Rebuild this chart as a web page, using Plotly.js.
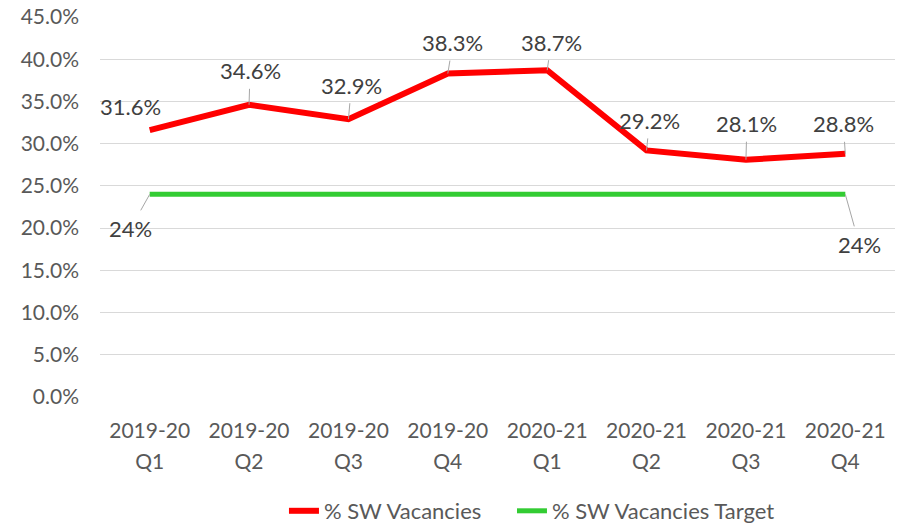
<!DOCTYPE html>
<html>
<head>
<meta charset="utf-8">
<script src="https://cdn.plot.ly/plotly-3.0.1.min.js"></script>
<style>html,body{margin:0;padding:0;background:#fff;}#chart{width:901px;height:524px;}</style>
</head>
<body>
<div id="chart"></div>
<script>
const categories = ['2019-20 Q1','2019-20 Q2','2019-20 Q3','2019-20 Q4','2020-21 Q1','2020-21 Q2','2020-21 Q3','2020-21 Q4'];
const yearLabels = ['2019-20','2019-20','2019-20','2019-20','2020-21','2020-21','2020-21','2020-21'];
const quarterLabels = ['Q1','Q2','Q3','Q4','Q1','Q2','Q3','Q4'];
const vacancies = [31.6, 34.6, 32.9, 38.3, 38.7, 29.2, 28.1, 28.8];
const target = [24, 24, 24, 24, 24, 24, 24, 24];
const seriesNames = ['% SW Vacancies', '% SW Vacancies Target'];

// label offsets (pixels) – presentation only
const vacOffsets = [[-19,-24,false],[1,-34,true],[3,-34,true],[5,-31,true],[4,-28,true],[3,-30,true],[1,-36,true],[-2,-30,true]];
const targetLabelIdx = [0, 7];
const targetOffsets = [[-19,34,true],[14,50,true]];

const xs = categories.map((_, i) => i);
const FONT = 'Lato, "Open Sans", sans-serif';
const TICK = {family: FONT, size: 21, color: '#595959'};
const LEGFONT = {family: FONT, size: 22, color: '#595959'};

const traces = [
  {x: xs, y: vacancies, name: seriesNames[0], type: 'scatter', mode: 'lines',
   line: {color: '#FF0000', width: 6}, hoverinfo: 'skip', legend: 'legend'},
  {x: xs, y: target, name: seriesNames[1], type: 'scatter', mode: 'lines',
   line: {color: '#33CC33', width: 5}, hoverinfo: 'skip', legend: 'legend2'},
  {x: xs, y: target, xaxis: 'x2', type: 'scatter', mode: 'lines', opacity: 0,
   showlegend: false, hoverinfo: 'skip', line: {width: 0}}
];

const annotations = [];
vacancies.forEach((v, i) => {
  const o = vacOffsets[i];
  const a = {x: i, y: v, xref: 'x', yref: 'y', text: v.toFixed(1) + '%',
    font: {family: FONT, size: 22, color: '#404040'}, borderpad: 4};
  if (o[2]) {
    Object.assign(a, {showarrow: true, ax: o[0], ay: o[1], arrowhead: 0, arrowwidth: 1,
      arrowcolor: '#A6A6A6', standoff: 0});
  } else {
    Object.assign(a, {showarrow: false, xshift: o[0], yshift: -o[1]});
  }
  annotations.push(a);
});
targetLabelIdx.forEach((idx, k) => {
  const o = targetOffsets[k];
  annotations.push({x: idx, y: target[idx], xref: 'x', yref: 'y', text: target[idx] + '%',
    font: {family: FONT, size: 22, color: '#404040'}, borderpad: 4,
    showarrow: true, ax: o[0], ay: o[1], arrowhead: 0, arrowwidth: 1,
    arrowcolor: '#A6A6A6', standoff: 0});
});

const layout = {
  width: 901, height: 524,
  margin: {l: 100, r: 6, t: 17, b: 127, autoexpand: false},
  paper_bgcolor: '#fff', plot_bgcolor: '#fff',
  font: {family: FONT, size: 21, color: '#595959'},
  showlegend: true,
  xaxis: {range: [-0.5, 7.5], tickvals: xs, ticktext: yearLabels, showgrid: false,
    zeroline: false, showline: false, ticks: '', ticklabelstandoff: 19,
    tickfont: TICK, fixedrange: true},
  xaxis2: {range: [-0.5, 7.5], tickvals: xs, ticktext: quarterLabels, overlaying: 'x',
    anchor: 'y', side: 'bottom', showgrid: false, zeroline: false, showline: false,
    ticks: '', ticklabelstandoff: 50, tickfont: TICK, fixedrange: true},
  yaxis: {range: [0, 45], dtick: 5, tick0: 0, tickformat: '.1f', ticksuffix: '%',
    showgrid: true, gridcolor: '#D9D9D9', gridwidth: 1, zeroline: false, showline: false,
    ticks: '', ticklabelstandoff: 20, tickfont: TICK, fixedrange: true},
  legend: {orientation: 'h', x: 0.2314, xanchor: 'left', y: -0.30, yanchor: 'middle',
    font: LEGFONT, bgcolor: 'rgba(0,0,0,0)'},
  legend2: {orientation: 'h', x: 0.5182, xanchor: 'left', y: -0.30, yanchor: 'middle',
    font: LEGFONT, bgcolor: 'rgba(0,0,0,0)'},
  annotations: annotations
};

Plotly.newPlot('chart', traces, layout, {displayModeBar: false, staticPlot: true});
</script>
</body>
</html>
